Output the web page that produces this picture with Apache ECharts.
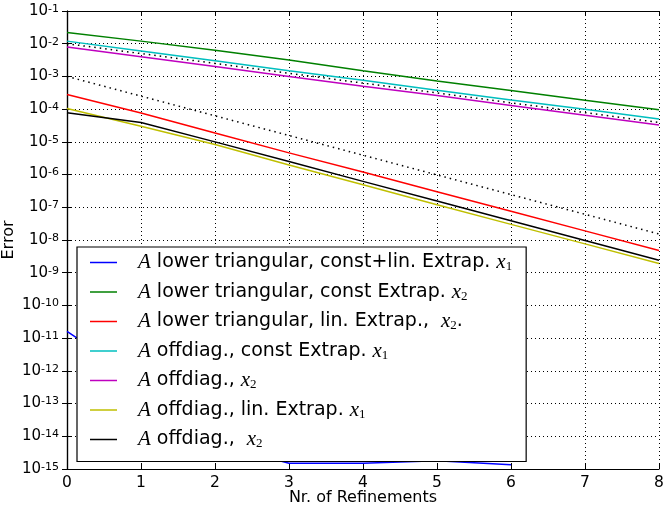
<!DOCTYPE html>
<html lang="en">
  <head>
    <meta charset="utf-8" />
    <title>Error vs refinements</title>
    <script src="https://cdn.jsdelivr.net/npm/echarts@6/dist/echarts.min.js"></script>
    <style>
      html, body { margin: 0; padding: 0; background: #fff; }
      #chart { width: 664px; height: 508px; }
    </style>
  </head>
  <body>
    <div id="chart"></div>
    <script>
      // refinement levels
      var refinements = [0, 1, 2, 3, 4, 5, 6, 7, 8]

      // error values
      var lowerConstLin = [1.6e-11, 5e-13, 6e-15, 1.5e-15, 1.5e-15, 1.8e-15, 1.35e-15]
      var lowerConst = [2.2e-2, 1.2e-2, 6.3e-3, 3.2e-3, 1.5e-3, 7.2e-4, 3.7e-4, 1.86e-4, 9.6e-5]
      var lowerLin = [2.8e-4, 7.6e-5, 1.86e-5, 4.6e-6, 1.2e-6, 3.0e-7, 7.6e-8, 1.9e-8, 4.8e-9]
      var offConst = [1.2e-2, 6.0e-3, 3.0e-3, 1.5e-3, 7.6e-4, 3.8e-4, 1.9e-4, 1.0e-4, 5.0e-5]
      var offX2 = [7.9e-3, 4.0e-3, 2.0e-3, 1.0e-3, 5.0e-4, 2.6e-4, 1.3e-4, 6.5e-5, 3.3e-5]
      var offLin = [1.04e-4, 3.0e-5, 8.3e-6, 1.95e-6, 4.9e-7, 1.2e-7, 3.0e-8, 7.6e-9, 1.9e-9]
      var offX2b = [7.8e-5, 3.9e-5, 1.0e-5, 2.5e-6, 6.2e-7, 1.55e-7, 3.9e-8, 9.7e-9, 2.4e-9]
      var refHalf = [1e-2, 5e-3, 2.5e-3, 1.25e-3, 6.25e-4, 3.125e-4, 1.5625e-4, 7.8125e-5, 3.90625e-5]
      var refQuarter = [1e-3, 2.5e-4, 6.25e-5, 1.5625e-5, 3.90625e-6, 9.765625e-7, 2.44140625e-7, 6.103515625e-8, 1.52587890625e-8]

      // legend text pieces
      var labelMid = [
        ' lower triangular, const+lin. Extrap. ',
        ' lower triangular, const Extrap. ',
        ' lower triangular, lin. Extrap.,  ',
        ' offdiag., const Extrap. ',
        ' offdiag., ',
        ' offdiag., lin. Extrap. ',
        ' offdiag.,  '
      ]
      var labelSub = ['1', '2', '2', '1', '2', '1', '2']
      var labelTail = ['', '', '.', '', '', '', '']
      var colors = ['#0000ff', '#008000', '#ff0000', '#00bfbf', '#bf00bf', '#bfbf00', '#000000']
      var seriesData = [lowerConstLin, lowerConst, lowerLin, offConst, offX2, offLin, offX2b]

      function pairs(values) {
        return values.map(function (v, i) { return [refinements[i], v] })
      }

      var names = labelMid.map(function (m, i) { return 'A' + m + 'x' + labelSub[i] + labelTail[i] })
      var richByName = {}
      names.forEach(function (n, i) {
        richByName[n] = '{g|}{m|A}{t|' + labelMid[i] + '}{m|x}{s|' + labelSub[i] + '}{t|' + labelTail[i] + '}'
      })

      var series = names.map(function (n, i) {
        return {
          name: n,
          type: 'line',
          data: pairs(seriesData[i]),
          symbol: 'none',
          color: colors[i],
          lineStyle: { width: 1.5, color: colors[i] },
          z: 3
        }
      })
      series.push({
        name: 'ref1', type: 'line', data: pairs(refHalf), symbol: 'none', silent: true,
        lineStyle: { width: 1.5, type: [1.5, 4], color: '#000' }, z: 2
      })
      series.push({
        name: 'ref2', type: 'line', data: pairs(refQuarter), symbol: 'none', silent: true,
        lineStyle: { width: 1.5, type: [1.5, 4], color: '#000' }, z: 2
      })

      var font = 'DejaVu Sans'
      var dotted = { show: true, lineStyle: { color: '#000', width: 1, type: [1, 3] } }
      var axisLine = { show: true, lineStyle: { color: '#000', width: 1.2 } }
      var ticks = { show: true, inside: true, length: 5, lineStyle: { color: '#000', width: 1 } }

      var chart = echarts.init(document.getElementById('chart'))
      chart.setOption({
        animation: false,
        backgroundColor: '#fff',
        grid: { left: 67, right: 5, top: 11, bottom: 39, containLabel: false, outerBoundsMode: 'none' },
        xAxis: [
          {
            type: 'value', min: 0, max: 8, interval: 1,
            name: 'Nr. of Refinements', nameLocation: 'middle', nameGap: 21, nameMoveOverlap: false,
            nameTextStyle: { fontFamily: font, fontSize: 16, color: '#000' },
            axisLine: axisLine, axisTick: ticks, splitLine: dotted,
            axisLabel: { fontFamily: font, fontSize: 15.5, color: '#000', margin: 6 }
          },
          {
            type: 'value', min: 0, max: 8, interval: 1, position: 'top',
            axisLine: axisLine, axisTick: ticks, splitLine: { show: false }, axisLabel: { show: false }
          }
        ],
        yAxis: [
          {
            type: 'log', logBase: 10, min: 1e-15, max: 1e-1, interval: 1,
            name: 'Error', nameLocation: 'middle', nameGap: 50, nameMoveOverlap: false,
            nameTextStyle: { fontFamily: font, fontSize: 16, color: '#000' },
            axisLine: axisLine, axisTick: ticks, splitLine: dotted,
            axisLabel: {
              margin: 8,
              formatter: function (v) {
                var e = Math.round(Math.log10(v))
                return '{b|10}{s|' + e + '}'
              },
              rich: {
                b: { fontFamily: font, fontSize: 15, color: '#000', lineHeight: 15, verticalAlign: 'bottom' },
                s: { fontFamily: font, fontSize: 11, color: '#000', lineHeight: 11, verticalAlign: 'top', padding: [0, 0, 11, 0] }
              }
            }
          },
          {
            type: 'log', logBase: 10, min: 1e-15, max: 1e-1, interval: 1, position: 'right',
            axisLine: axisLine, axisTick: ticks, splitLine: { show: false }, axisLabel: { show: false }
          }
        ],
        legend: {
          data: names,
          orient: 'vertical',
          left: 77,
          top: 247,
          padding: [5, 14, 11, 13],
          itemGap: 8,
          itemWidth: 27,
          itemHeight: 1.5,
          icon: 'rect',
          backgroundColor: '#fff',
          borderColor: '#000',
          borderWidth: 1.2,
          borderRadius: 0,
          selectedMode: false,
          formatter: function (name) { return richByName[name] },
          textStyle: {
            rich: {
              g: { width: 16, lineHeight: 22 },
              t: { fontFamily: font, fontSize: 19, color: '#000', lineHeight: 22 },
              m: { fontFamily: 'Liberation Serif', fontStyle: 'italic', fontSize: 21, color: '#000', lineHeight: 22 },
              s: { fontFamily: 'Liberation Serif', fontSize: 13, color: '#000', lineHeight: 13, verticalAlign: 'bottom' }
            }
          }
        },
        series: series
      })
    </script>
  </body>
</html>
